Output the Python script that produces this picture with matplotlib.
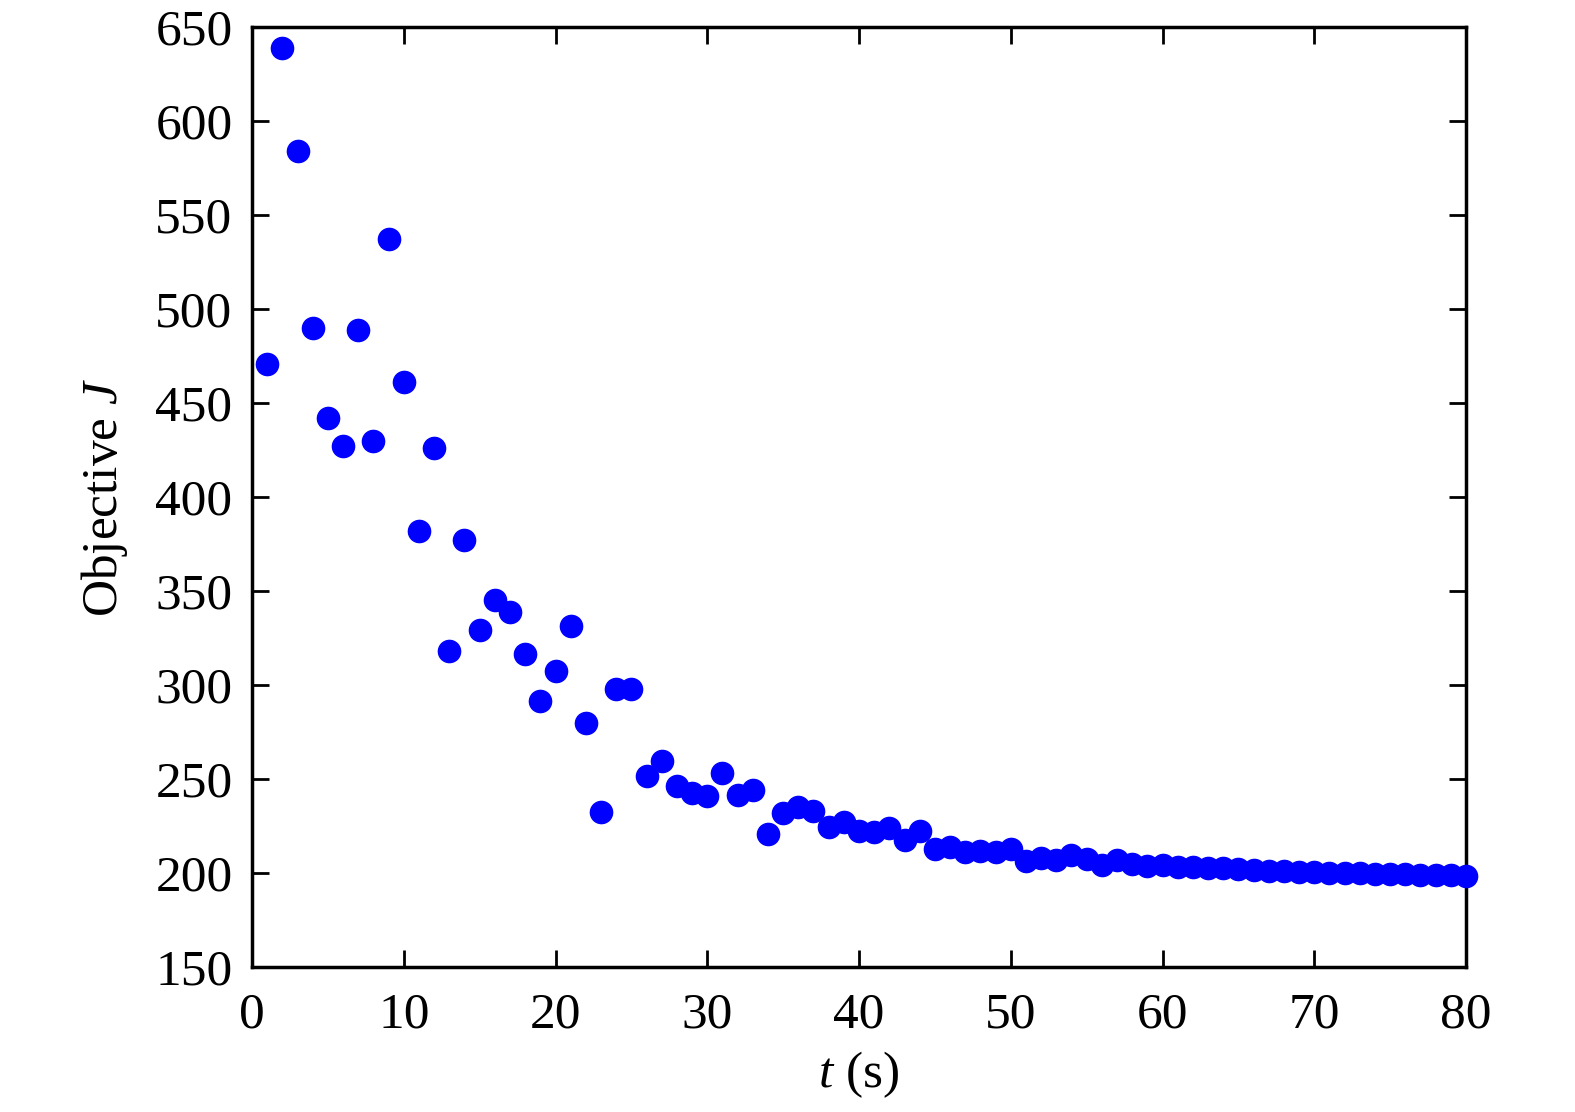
import numpy as np
import matplotlib
matplotlib.use("Agg")
import matplotlib.pyplot as plt

plt.rcParams["font.family"] = ["Liberation Serif", "DejaVu Serif"]
plt.rcParams["mathtext.fontset"] = "custom"
plt.rcParams["mathtext.rm"] = "Liberation Serif"
plt.rcParams["mathtext.it"] = "Liberation Serif:italic"

t = np.arange(1, 81)
J = [471, 639, 584, 490, 442, 427, 489, 430, 537, 461,
     382, 426, 318, 377, 329, 345, 339, 316.5, 291.5, 307.5,
     331.4, 280, 232.4, 298, 298, 251.6, 259.6, 246.3, 242.6, 241,
     253.2, 241.5, 244.1, 220.7, 231.9, 235, 233, 224.5, 227, 222.3,
     222, 224, 217.5, 222.3, 212.8, 213.8, 211, 211.7, 211, 212.8,
     206.4, 208, 207, 209.6, 207.5, 204.3, 207, 205, 203.7, 204.3,
     203.2, 203.2, 202.7, 202.7, 202, 201.6, 201, 201, 200.5, 200.5,
     200, 200, 200, 199.5, 199.5, 199.5, 199, 199, 199, 198.4]

fig = plt.figure(figsize=(15.75, 11.12), dpi=100)
ax = fig.add_axes([0.16, 0.1304, 0.7708, 0.8453])
ax.plot(t, J, "o", color="#0000ff", markersize=16, clip_on=False, zorder=3)

ax.set_xlim(0, 80)
ax.set_ylim(150, 650)
ax.set_xticks(range(0, 81, 10))
ax.set_yticks(range(150, 651, 50))
ax.tick_params(direction="in", top=True, right=True, length=12, width=2,
               labelsize=37)
ax.tick_params(axis="x", pad=18)
ax.tick_params(axis="y", pad=14)
for s in ax.spines.values():
    s.set_linewidth(2.5)

ax.set_xlabel(r"$t$ (s)", fontsize=37, labelpad=8)
ax.set_ylabel(r"Objective $J$", fontsize=37, labelpad=18)

fig.savefig("out.png", dpi=100)
